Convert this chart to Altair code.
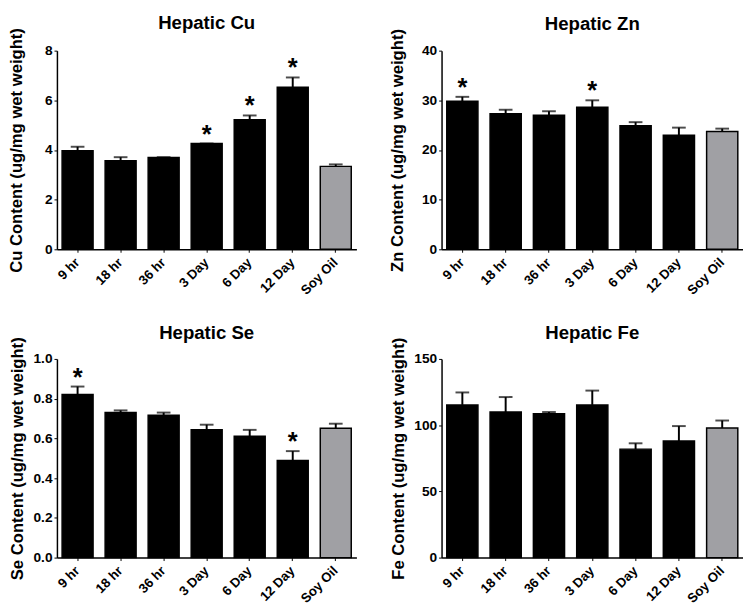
import altair as alt
import pandas as pd

categories = ["9 hr", "18 hr", "36 hr", "3 Day", "6 Day", "12 Day", "Soy Oil"]
groups = ["treat", "treat", "treat", "treat", "treat", "treat", "soy"]

cu_mean = [3.97, 3.57, 3.70, 4.26, 5.22, 6.53, 3.34]
cu_top = [4.13, 3.71, 3.71, 4.26, 5.39, 6.92, 3.42]
cu_star = [False, False, False, True, True, True, False]

zn_mean = [29.8, 27.3, 27.0, 28.6, 24.9, 22.95, 23.7]
zn_top = [30.7, 28.1, 27.8, 30.0, 25.6, 24.5, 24.3]
zn_star = [True, False, False, True, False, False, False]

se_mean = [0.821, 0.730, 0.716, 0.644, 0.611, 0.489, 0.651]
se_top = [0.861, 0.741, 0.730, 0.669, 0.643, 0.536, 0.674]
se_star = [True, False, False, False, False, True, False]

fe_mean = [115.3, 109.9, 108.7, 115.3, 81.9, 88.0, 97.9]
fe_top = [124.7, 121.2, 109.9, 126.1, 86.3, 99.3, 103.5]
fe_star = [False, False, False, False, False, False, False]

FONT = "Liberation Sans"


def panel(title, ytitle, mean, top, star, domain, ticks, fmt, width, tpad):
    df = pd.DataFrame({
        "cat": categories,
        "grp": groups,
        "val": mean,
        "top": top,
        "star": star,
    })
    x = alt.X("cat:N", sort=categories, title=None,
              scale=alt.Scale(paddingInner=0.28, paddingOuter=0.12),
              axis=alt.Axis(labelAngle=-45, labelFontSize=13.5, labelFontWeight="bold",
                            labelFont=FONT, labelColor="black", tickSize=3,
                            tickColor="black", domainColor="black", domainWidth=1.5,
                            labelAlign="right", labelBaseline="middle",
                            labelPadding=8))
    yscale = alt.Scale(domain=domain, nice=False, zero=True)
    yaxis = alt.Axis(values=ticks, format=fmt, title=ytitle, titleFontSize=17,
                     titleFontWeight="bold", titleFont=FONT, titleColor="black",
                     labelFontSize=14, labelFontWeight="bold", labelFont=FONT,
                     labelColor="black", tickSize=3, tickColor="black",
                     domainColor="black", domainWidth=1.5, grid=False,
                     labelPadding=2, titlePadding=tpad)
    base = alt.Chart(df)
    bars = base.mark_bar(stroke="black", strokeWidth=1.5).encode(
        x=x,
        y=alt.Y("val:Q", scale=yscale, axis=yaxis),
        color=alt.Color("grp:N", scale=alt.Scale(domain=["treat", "soy"], range=["black", "#a0a0a4"]), legend=None),
    )
    rule = base.mark_rule(color="black", strokeWidth=2).encode(
        x=alt.X("cat:N", sort=categories),
        y=alt.Y("val:Q"),
        y2="top:Q",
    )
    cap = base.mark_tick(color="black", thickness=2, size=14, orient="horizontal").encode(
        x=alt.X("cat:N", sort=categories),
        y=alt.Y("top:Q"),
    )
    stars = base.transform_filter(alt.datum.star).mark_text(
        text="*", font=FONT, fontSize=26, fontWeight="bold", color="black",
        baseline="alphabetic", dy=-1,
    ).encode(
        x=alt.X("cat:N", sort=categories),
        y=alt.Y("top:Q"),
    )
    return alt.layer(bars, rule, cap, stars).properties(
        width=width, height=203,
        title=alt.TitleParams(title, fontSize=19, fontWeight="bold", font=FONT,
                              color="black", offset=-6),
    )


p1 = panel("Hepatic Cu", "Cu Content (ug/mg wet weight)", cu_mean, cu_top, cu_star,
           [0, 8], [0, 2, 4, 6, 8], "d", 306, 19)
p2 = panel("Hepatic Zn", "Zn Content (ug/mg wet weight)", zn_mean, zn_top, zn_star,
           [0, 40], [0, 10, 20, 30, 40], "d", 308, 15)
p3 = panel("Hepatic Se", "Se Content (ug/mg wet weight)", se_mean, se_top, se_star,
           [0, 1], [0, 0.2, 0.4, 0.6, 0.8, 1.0], ".1f", 306, 7)
p4 = panel("Hepatic Fe", "Fe Content (ug/mg wet weight)", fe_mean, fe_top, fe_star,
           [0, 150], [0, 50, 100, 150], "d", 308, 7)

chart = alt.vconcat(
    alt.hconcat(p1, p2, spacing=33),
    alt.hconcat(p3, p4, spacing=33),
    spacing=27,
).properties(padding=0).configure_view(stroke=None)

chart.save("out.html", embed_options={"renderer": "svg", "actions": False})
